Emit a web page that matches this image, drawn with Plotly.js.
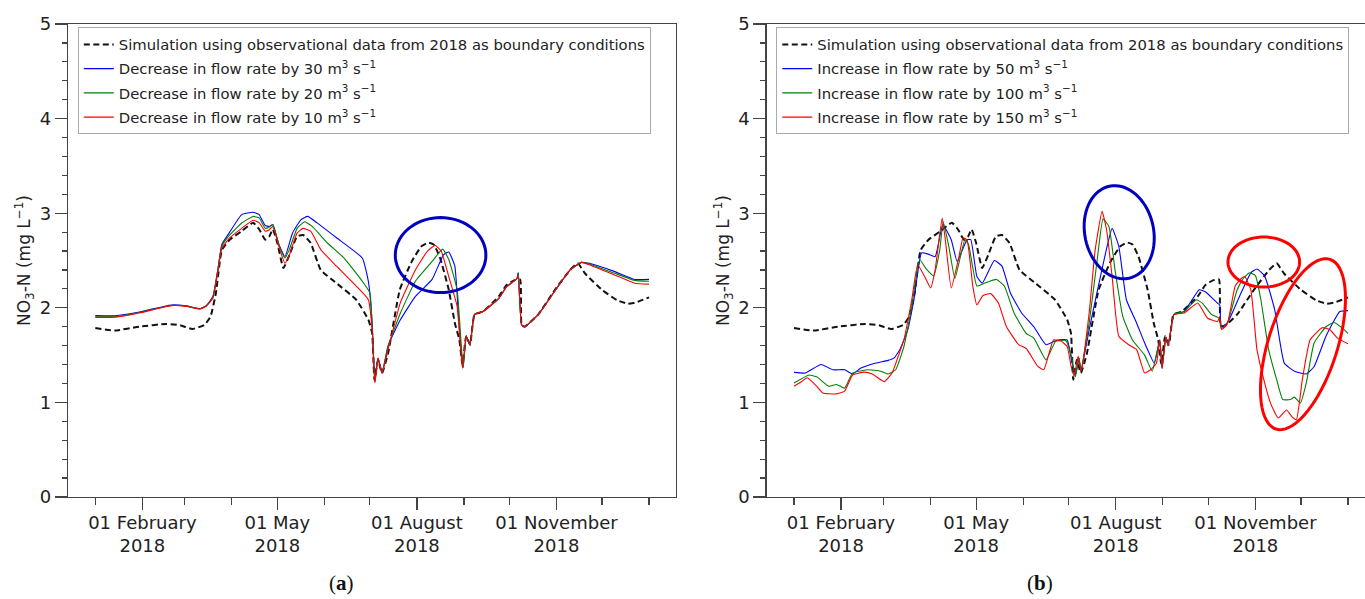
<!DOCTYPE html>
<html><head><meta charset="utf-8">
<script src="https://cdn.plot.ly/plotly-3.0.1.min.js"></script>
<style>html,body{margin:0;padding:0;overflow:hidden;background:#fff;width:1365px;height:599px}#chart{width:1376px;height:599px}</style>
</head><body><div id="chart"></div><script>
// ---- data: day of year 2018 (0 = 1 Jan) and NO3-N (mg/L) ----
const baselineDays = [0,13,29,47,56,64,72,76,79.5,83.4,88.6,96.5,104,108,112,114.7,117,120,124,128,133,137,142,148.6,159,172,180,182.5,184,186.4,189,193,200.7,208.6,215,219.5,223,227,233,237,240,242,244.5,247,250,255.5,266,271,276,280,281,283,292,303,313,318,323,334,344,351,357,365];
const baselineNO3 = [1.786,1.76,1.80,1.83,1.815,1.776,1.82,1.91,2.156,2.61,2.72,2.81,2.90,2.83,2.72,2.755,2.83,2.685,2.42,2.56,2.755,2.77,2.685,2.40,2.26,2.085,1.874,1.73,1.24,1.45,1.31,1.52,2.19,2.49,2.65,2.69,2.67,2.54,2.19,1.84,1.66,1.40,1.70,1.61,1.93,1.96,2.12,2.24,2.29,2.30,1.82,1.80,1.93,2.19,2.40,2.47,2.36,2.19,2.08,2.043,2.06,2.11];

const dec30Days = [0,13,29,50,60,69,73,77.5,81,83.4,88.6,96.5,104,108,112,114.7,117,121,125,130,135.5,140,146,159,176,180,182.5,184.3,186.4,189,193,201,211,222,229.5,233,237,239,241,242.5,244.5,247,250,255.5,266,271,278,278.8,281,283,292,303,313,320.5,328,342,355.5,365];
const dec30NO3 = [1.917,1.915,1.955,2.03,2.02,1.99,2.02,2.12,2.43,2.67,2.80,2.985,3.01,2.985,2.87,2.86,2.88,2.67,2.54,2.79,2.93,2.966,2.90,2.74,2.526,2.28,1.84,1.22,1.47,1.31,1.60,1.87,2.12,2.30,2.56,2.59,2.44,2.015,1.56,1.37,1.70,1.61,1.93,1.96,2.10,2.22,2.31,2.37,1.82,1.80,1.93,2.18,2.40,2.48,2.46,2.385,2.30,2.30];

const dec20Days = [0,13,29,50,60,69,73,77.5,81,83.4,88.6,96.5,104,108,112,114.7,117,121,125,128,133,138,143,153,164,176,181,183.5,184.3,186.4,189,193,201,211,222,229,233,238.5,241,242.5,244.5,247,250,255.5,266,271,278,278.8,281,283,292,303,313,320.5,328,342,355.5,365];
const dec20NO3 = [1.905,1.905,1.95,2.025,2.018,1.99,2.02,2.11,2.42,2.65,2.77,2.896,2.966,2.95,2.84,2.855,2.88,2.67,2.526,2.62,2.84,2.91,2.86,2.685,2.526,2.28,2.156,1.415,1.22,1.47,1.31,1.59,1.94,2.28,2.49,2.62,2.51,2.19,1.66,1.37,1.70,1.61,1.93,1.96,2.10,2.22,2.31,2.37,1.82,1.80,1.93,2.18,2.40,2.48,2.45,2.367,2.29,2.28];

const dec10Days = [0,13,29,50,60,69,73,77.5,81,83.4,88.6,96.5,104,108,112,114.7,117,121,125,128,133,137,142,148.6,159,172,180,182.5,184.3,186.4,189,193,201,211,219,224,228,233,238.5,242,244.5,247,250,255.5,266,271,278,278.8,281,283,292,303,313,320.5,328,342,355.5,365];
const dec10NO3 = [1.899,1.90,1.945,2.022,2.015,1.987,2.015,2.10,2.40,2.63,2.74,2.84,2.925,2.90,2.81,2.826,2.86,2.65,2.47,2.56,2.79,2.84,2.81,2.615,2.44,2.23,2.085,1.77,1.205,1.47,1.31,1.56,2.05,2.40,2.60,2.66,2.60,2.33,2.015,1.36,1.70,1.61,1.93,1.96,2.10,2.22,2.31,2.34,1.82,1.80,1.93,2.18,2.40,2.48,2.44,2.35,2.26,2.25];

const inc50Days = [0,7.4,17.8,25.6,33.4,38.6,43.8,54,62,66,69.8,75,79,84,88,93,98,103.6,107.5,114,116.5,120.5,124,132,137,142.6,150,158,166,173.7,180,182.8,185.4,187.8,189,194.5,200,206,209.6,214,219,225.7,231,237.4,241,242.5,245,246.5,250.4,257,267,271,279,280.5,281.5,285.5,293.5,301,305,310,316.7,323,329.7,337.5,342.7,350.5,359.6,365];
const inc50NO3 = [1.317,1.31,1.40,1.345,1.345,1.30,1.36,1.416,1.444,1.47,1.56,1.77,2.085,2.58,2.57,2.54,2.88,2.72,2.49,2.72,2.72,2.33,2.26,2.50,2.44,2.156,1.945,1.80,1.61,1.66,1.66,1.45,1.29,1.47,1.33,1.77,2.19,2.63,2.84,2.65,2.085,1.84,1.63,1.415,1.66,1.36,1.69,1.60,1.93,1.96,2.19,2.17,2.05,2.03,1.80,1.84,2.12,2.37,2.41,2.34,1.98,1.415,1.33,1.30,1.38,1.70,1.96,1.97];

const inc100Days = [0,10,15,23,28,33.4,38.6,49,57,62,67,72.4,77.6,82.8,86.7,92,96,98.3,102,106,112.6,115,120.5,125.5,133.4,138.6,145,153,158,166,172.4,179,182.8,185.4,187.8,189,194.5,200,203.6,207.5,211.5,216.6,223,231,236,241,242.5,245,246.5,250.4,257,265,269,275,280,281.5,285.5,292,296,300,304,307.6,312.7,318,322,327,329.7,333.6,337.5,342.7,350.5,355.7,361,365];
const inc100NO3 = [1.205,1.29,1.27,1.17,1.19,1.15,1.31,1.345,1.33,1.30,1.345,1.59,2.015,2.51,2.42,2.34,2.61,2.91,2.65,2.31,2.72,2.67,2.23,2.26,2.30,2.23,1.945,1.73,1.68,1.45,1.645,1.655,1.49,1.27,1.47,1.33,1.84,2.54,2.94,2.86,2.40,1.91,1.66,1.50,1.33,1.66,1.36,1.69,1.60,1.93,1.96,2.085,2.05,1.93,1.89,1.78,1.84,2.19,2.31,2.37,2.34,2.085,1.56,1.24,1.03,1.03,1.056,0.993,1.205,1.63,1.80,1.845,1.79,1.73];

const inc150Days = [0,4.7,8.7,15,19,28,33.4,38.6,46.4,51.6,59.4,64.6,68.5,72.4,77.6,81.5,86.7,90,93,97.6,99.7,103.6,108.7,111.4,114,117.8,120.5,124.5,129.6,134.7,140,148,153,160.7,164.6,171,176.2,180,182.6,184.6,187.2,189.3,194.5,198.4,203,206,209.6,214,220.5,225.7,231,235,238.8,241,242.5,245,246.5,250.4,257,266,272.5,279,280.5,281.8,285.5,290.7,294.6,297,301,305,309,314,319,324.5,328,331,334.9,340,348,353,358,365];
const inc150NO3 = [1.17,1.215,1.26,1.17,1.10,1.09,1.12,1.29,1.32,1.30,1.22,1.31,1.48,1.66,2.085,2.455,2.31,2.21,2.40,2.95,2.72,2.21,2.54,2.74,2.72,2.23,2.03,2.13,2.15,2.05,1.80,1.61,1.57,1.38,1.345,1.66,1.645,1.59,1.38,1.275,1.49,1.33,1.95,2.61,3.02,2.82,2.33,1.70,1.61,1.56,1.31,1.345,1.415,1.66,1.36,1.69,1.60,1.93,1.945,2.05,1.89,1.855,1.90,1.77,1.83,2.23,2.31,2.33,2.19,1.56,1.275,0.99,0.835,0.92,0.85,0.817,1.24,1.66,1.79,1.77,1.68,1.62];

const baselineName = 'Simulation using observational data from 2018 as boundary conditions';
const leftNames = ['Decrease in flow rate by 30 m<sup>3</sup> s<sup>\u22121</sup>','Decrease in flow rate by 20 m<sup>3</sup> s<sup>\u22121</sup>','Decrease in flow rate by 10 m<sup>3</sup> s<sup>\u22121</sup>'];
const rightNames = ['Increase in flow rate by 50 m<sup>3</sup> s<sup>\u22121</sup>','Increase in flow rate by 100 m<sup>3</sup> s<sup>\u22121</sup>','Increase in flow rate by 150 m<sup>3</sup> s<sup>\u22121</sup>'];
const yTitle = 'NO<sub>3</sub>-N (mg L<sup>\u22121</sup>)';
const panelLabels = ['(<b>a</b>)','(<b>b</b>)'];

// ---- helpers ----
const T0 = Date.UTC(2018,0,1);
function toDates(days){ return days.map(d => new Date(T0 + d*86400000).toISOString().slice(0,19).replace('T',' ')); }
const colors = ['#0000ff','#008000','#ff0000'];

function line(days, vals, name, color, xa, ya, leg, grp, dashed){
  return {x: toDates(days), y: vals, name: name, type:'scatter', mode:'lines',
    xaxis: xa, yaxis: ya, legend: leg, legendgroup: leg+'_'+grp,
    line: dashed ? {color:'#111', width:2, dash:'6px,3.5px', shape:'spline', smoothing:0.4}
                 : {color: color, width:1.1, shape:'spline', smoothing:0.4},
    hoverinfo:'skip'};
}

const traces = [
  line(baselineDays, baselineNO3, baselineName, '#111', 'x', 'y', 'legend', 0, true),
  line(dec30Days, dec30NO3, leftNames[0], colors[0], 'x', 'y', 'legend', 1),
  line(dec20Days, dec20NO3, leftNames[1], colors[1], 'x', 'y', 'legend', 2),
  line(dec10Days, dec10NO3, leftNames[2], colors[2], 'x', 'y', 'legend', 3),
  line(baselineDays, baselineNO3, baselineName, '#111', 'x2', 'y2', 'legend2', 0, true),
  line(inc50Days, inc50NO3, rightNames[0], colors[0], 'x2', 'y2', 'legend2', 1),
  line(inc100Days, inc100NO3, rightNames[1], colors[1], 'x2', 'y2', 'legend2', 2),
  line(inc150Days, inc150NO3, rightNames[2], colors[2], 'x2', 'y2', 'legend2', 3),
];

// highlight ellipses (domain-relative centre, semi-axes in px, tilt)
const PW = 608, PH = 473;
function ellipse(xr, yr, cx, cy, a, b, deg, color){
  const th = deg*Math.PI/180;
  const ux = Math.sin(th), uy = Math.cos(th);   // major axis direction (px, y up)
  const vx = uy, vy = -ux;
  let p = '';
  for(let i=0;i<=72;i++){
    const t = i/72*2*Math.PI;
    const dx = a*Math.cos(t)*ux + b*Math.sin(t)*vx;
    const dy = a*Math.cos(t)*uy + b*Math.sin(t)*vy;
    p += (i===0?'M':'L') + (cx + dx/PW).toFixed(5) + ',' + (cy + dy/PH).toFixed(5);
  }
  return {type:'path', path: p+'Z', xref: xr+' domain', yref: yr+' domain', line:{color:color, width:3}};
}
const shapes = [
  ellipse('x','y', 0.6128, 0.5114, 37.5, 45.3, 0, '#0000c0'),
  ellipse('x2','y2', 0.5795, 0.5598, 47, 34.4, -12, '#0000c0'),
  ellipse('x2','y2', 0.8172, 0.4968, 25, 35.8, 0, '#ff0000'),
  ellipse('x2','y2', 0.8816, 0.3230, 89, 34.5, 17.6, '#ff0000'),
];

const axColor = '#444';
function xAxis(domain, anchor){
  return {domain: domain, anchor: anchor, type:'date', range:['2017-12-14','2019-01-18 19:00'],
    tickmode:'linear', tick0:'2018-02-01', dtick:'M3', tickformat:'%d %B<br>%Y',
    ticks:'outside', ticklen:12, tickwidth:1.2, tickcolor:axColor, ticklabelstandoff:-3,
    minor:{dtick:'M1', tick0:'2018-01-01', ticks:'outside', ticklen:7, tickwidth:1.2, tickcolor:axColor, showgrid:false},
    showline:true, mirror:true, linecolor:axColor, linewidth:1.3, showgrid:false, zeroline:false,
    tickfont:{family:'DejaVu Sans', size:18, color:'#222'}, fixedrange:true};
}
function yAxis(anchor){
  return {anchor: anchor, range:[0,5], tickmode:'linear', tick0:0, dtick:1,
    ticks:'outside', ticklen:12, tickwidth:1.2, tickcolor:axColor,
    minor:{dtick:0.2, ticks:'outside', ticklen:5, tickwidth:1.2, tickcolor:axColor, showgrid:false},
    showline:true, mirror:true, linecolor:axColor, linewidth:1.3, showgrid:false, zeroline:false,
    tickfont:{family:'DejaVu Sans', size:18, color:'#222'},
    title:{text: yTitle, font:{family:'DejaVu Sans', size:17, color:'#222'}, standoff:4}, fixedrange:true};
}
const legendStyle = (x) => ({x:x, y:0.993, xanchor:'left', yanchor:'top', xref:'paper', yref:'paper',
  bgcolor:'rgba(255,255,255,0.9)', bordercolor:'#aaa', borderwidth:1, tracegroupgap:2,
  font:{family:'DejaVu Sans', size:14.8, color:'#222'}, traceorder:'grouped'});

const layout = {
  width:1376, height:599, margin:{l:68, r:1, t:24, b:102},
  paper_bgcolor:'#fff', plot_bgcolor:'#fff', showlegend:true,
  font:{family:'DejaVu Sans', color:'#222'},
  xaxis: xAxis([0, 0.46519], 'y'),
  xaxis2: xAxis([0.53456, 1], 'y2'),
  yaxis: yAxis('x'),
  yaxis2: yAxis('x2'),
  legend: legendStyle(0.0075),
  legend2: legendStyle(0.5419),
  shapes: shapes,
  annotations: [
    {text: panelLabels[0], xref:'paper', yref:'paper', x:0.2096, y:-0.181, showarrow:false, xanchor:'center', yanchor:'middle', font:{family:'Liberation Serif', size:21, color:'#111'}},
    {text: panelLabels[1], xref:'paper', yref:'paper', x:0.7437, y:-0.181, showarrow:false, xanchor:'center', yanchor:'middle', font:{family:'Liberation Serif', size:21, color:'#111'}},
  ]
};
Plotly.newPlot('chart', traces, layout, {displayModeBar:false, staticPlot:true});
</script></body></html>
